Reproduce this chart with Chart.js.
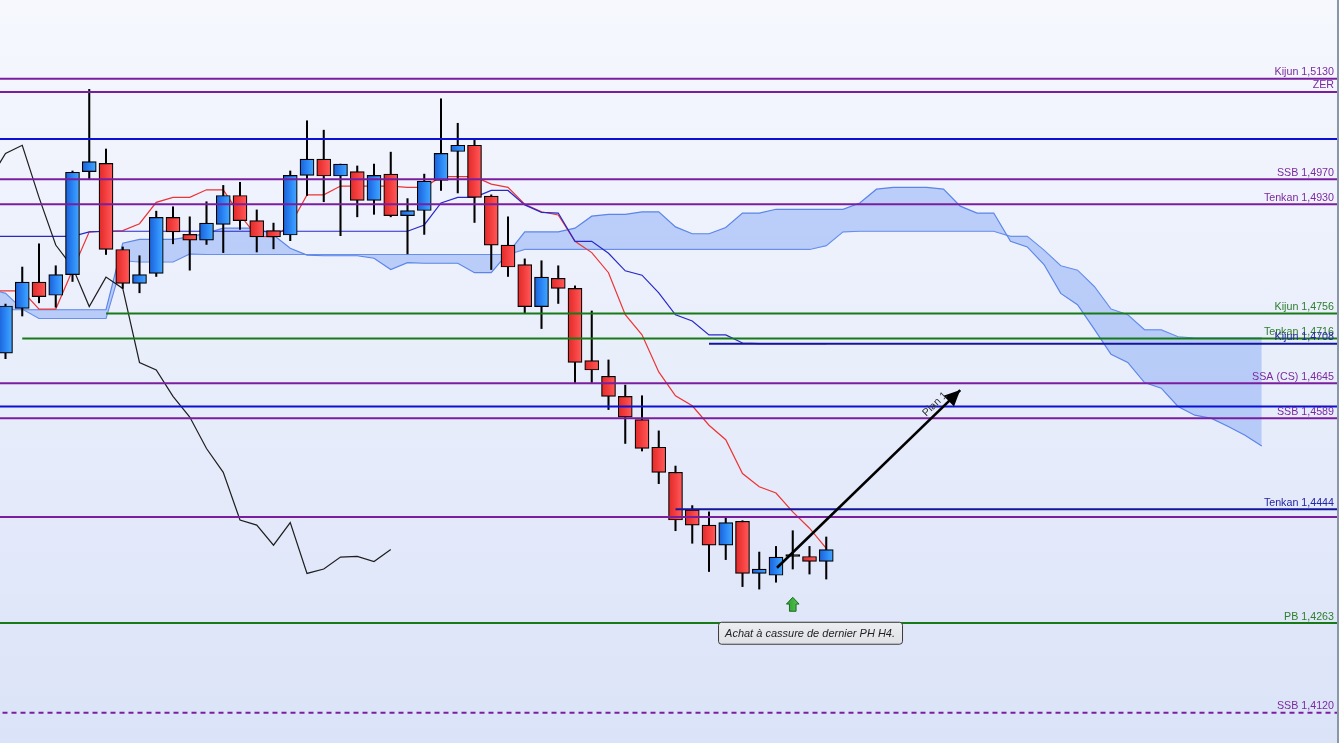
<!DOCTYPE html>
<html>
<head>
<meta charset="utf-8">
<script src="https://cdn.jsdelivr.net/npm/chart.js@4.4.1/dist/chart.umd.min.js"></script>
<style>
html,body{margin:0;padding:0;overflow:hidden;background:#fff}
canvas{display:block}
</style>
</head>
<body>
<canvas id="c" width="1339" height="743"></canvas>
<script>
// ---------- DATA ----------
// candles, index 0..49
const open  = [1.4693,1.4764,1.4806,1.4785,1.4818,1.4982,1.4995,1.4858,1.4804,1.4820,1.4909,1.4882,1.4873,1.4898,1.4944,1.4904,1.4888,1.4881,1.4976,1.5002,1.4975,1.4982,1.4936,1.4978,1.4912,1.4920,1.4968,1.5014,1.5024,1.4943,1.4865,1.4834,1.4767,1.4812,1.4796,1.4681,1.4656,1.4624,1.4587,1.4543,1.4503,1.4443,1.4419,1.4387,1.4425,1.4342,1.4339,1.4369,1.4369,1.4361];
const high  = [1.4771,1.4830,1.4867,1.4832,1.4983,1.5113,1.5018,1.4862,1.4848,1.4919,1.4926,1.4910,1.4934,1.4960,1.4965,1.4921,1.4900,1.4983,1.5063,1.5048,1.4994,1.4991,1.4994,1.5013,1.4939,1.4978,1.5098,1.5059,1.5032,1.4945,1.4910,1.4843,1.4840,1.4832,1.4800,1.4760,1.4682,1.4642,1.4625,1.4569,1.4513,1.4450,1.4440,1.4430,1.4426,1.4376,1.4385,1.4410,1.4385,1.4400];
const low   = [1.4684,1.4752,1.4773,1.4766,1.4807,1.4970,1.4850,1.4796,1.4789,1.4815,1.4867,1.4825,1.4866,1.4853,1.4890,1.4854,1.4859,1.4872,1.4944,1.4934,1.4880,1.4910,1.4914,1.4910,1.4851,1.4882,1.4952,1.4948,1.4901,1.4826,1.4815,1.4757,1.4732,1.4772,1.4646,1.4646,1.4603,1.4549,1.4537,1.4485,1.4410,1.4390,1.4345,1.4364,1.4321,1.4317,1.4328,1.4349,1.4341,1.4333];
const close = [1.4768,1.4806,1.4783,1.4818,1.4981,1.4998,1.4858,1.4804,1.4818,1.4909,1.4886,1.4873,1.4900,1.4944,1.4904,1.4878,1.4878,1.4976,1.5002,1.4975,1.4994,1.4936,1.4976,1.4912,1.4920,1.4967,1.5011,1.5024,1.4941,1.4865,1.4830,1.4767,1.4814,1.4796,1.4678,1.4666,1.4624,1.4591,1.4541,1.4503,1.4427,1.4419,1.4387,1.4423,1.4342,1.4349,1.4368,1.4369,1.4361,1.4380];

// Ichimoku lines, first value sits at index -1
const tenkan = [1.4792,1.4792,1.4792,1.4763,1.4763,1.4825,1.4886,1.4887,1.4888,1.4899,1.4933,1.4941,1.4941,1.4953,1.4953,1.4913,1.4879,1.4878,1.4897,1.4945,1.4945,1.4959,1.4959,1.4959,1.4959,1.4957,1.4957,1.4974,1.4974,1.4974,1.4962,1.4957,1.4930,1.4918,1.4913,1.4871,1.4853,1.4821,1.4754,1.4722,1.4663,1.4625,1.4609,1.4578,1.4555,1.4501,1.4480,1.4470,1.4440,1.4414,1.4382];
const kijun  = [1.4879,1.4879,1.4879,1.4879,1.4879,1.4879,1.4886,1.4887,1.4887,1.4887,1.4887,1.4887,1.4887,1.4887,1.4887,1.4887,1.4887,1.4887,1.4887,1.4887,1.4887,1.4887,1.4887,1.4887,1.4887,1.4887,1.4897,1.4932,1.4941,1.4941,1.4952,1.4952,1.4929,1.4917,1.4916,1.4871,1.4871,1.4852,1.4824,1.4817,1.4789,1.4754,1.4744,1.4722,1.4722,1.4709,1.4708,1.4708,1.4708,1.4708,1.4708];
const chikou = [1.4967,1.5011,1.5024,1.4941,1.4865,1.4830,1.4767,1.4814,1.4796,1.4678,1.4666,1.4624,1.4591,1.4541,1.4503,1.4427,1.4419,1.4387,1.4423,1.4342,1.4349,1.4368,1.4369,1.4361,1.4380];
const spanA  = [1.4762,1.4762,1.4762,1.4762,1.4762,1.4762,1.4762,1.4762,1.4868,1.4874,1.4874,1.4874,1.4878,1.4884,1.4892,1.4892,1.4892,1.4881,1.4860,1.4849,1.4848,1.4848,1.4848,1.4844,1.4826,1.4837,1.4836,1.4836,1.4836,1.4821,1.4821,1.4852,1.4886,1.4886,1.4886,1.4892,1.4911,1.4914,1.4914,1.4918,1.4918,1.4894,1.4883,1.4883,1.4893,1.4916,1.4916,1.4922,1.4922,1.4922,1.4922,1.4922,1.4932,1.4954,1.4957,1.4957,1.4957,1.4954,1.4927,1.4916,1.4916,1.4871,1.4862,1.4834,1.4788,1.4770,1.4731,1.4691,1.4678,1.4646,1.4637,1.4608,1.4594,1.4589,1.4576,1.4562,1.4545];
const spanB  = [1.4795,1.4788,1.4763,1.4748,1.4748,1.4748,1.4748,1.4748,1.4840,1.4838,1.4838,1.4838,1.4851,1.4850,1.4850,1.4850,1.4850,1.4850,1.4850,1.4850,1.4850,1.4850,1.4850,1.4850,1.4850,1.4850,1.4850,1.4850,1.4850,1.4850,1.4850,1.4850,1.4858,1.4858,1.4858,1.4858,1.4858,1.4858,1.4858,1.4858,1.4858,1.4858,1.4858,1.4858,1.4858,1.4858,1.4858,1.4858,1.4858,1.4858,1.4864,1.4886,1.4887,1.4887,1.4887,1.4887,1.4887,1.4887,1.4887,1.4887,1.4887,1.4879,1.4879,1.4857,1.4832,1.4825,1.4799,1.4763,1.4754,1.4730,1.4730,1.4719,1.4717,1.4717,1.4717,1.4717,1.4717];

// horizontal levels
const levelValues = [1.5130,1.5109,1.5034,1.4970,1.4930,1.4756,1.4716,1.4708,1.4645,1.4608,1.4589,1.4444,1.4432,1.4263,1.4120];
const levelLabels = ['Kijun 1,5130','ZER','','SSB 1,4970','Tenkan 1,4930','Kijun 1,4756','Tenkan 1,4716','Kijun 1,4708','SSA (CS) 1,4645','','SSB 1,4589','Tenkan 1,4444','','PB 1,4263','SSB 1,4120'];
const levelStart  = [null,null,null,null,null,6,1,42,null,null,null,40,null,null,null];
const levelKind   = ['p','p','b','p','p','g','g','n','p','b','p','n','p','g','pd'];

// annotations
const arrowFrom = [46.06, 1.4351];
const arrowTo   = [57.0, 1.4634];
const arrowLabel = 'Plan 1';
const signalAt = [47, 1.4304];
const noteAt = [42.54, 1.4265];
const noteText = 'Achat à cassure de dernier PH H4.';

// ---------- STYLE ----------
const X_MIN = -0.3284, X_MAX = 79.612;
const Y_MIN = 1.407186, Y_MAX = 1.525536;
const styleMap = {
  p:  {line:'#7a1ea0', text:'#7a2a9e', dash:[]},
  pd: {line:'#7a1ea0', text:'#7a2a9e', dash:[5,4]},
  b:  {line:'#0c10d4', text:'#1c1ca8', dash:[]},
  n:  {line:'#15159c', text:'#2323a3', dash:[]},
  g:  {line:'#167a16', text:'#2e7e2e', dash:[]}
};
const FONT = '"Liberation Sans", Arial, sans-serif';

function pts(arr, startIdx){ return arr.map((v,k)=>({x:startIdx+k, y:v})); }

function bodyColor(ctx){
  if (ctx.type !== 'data') return '#2b86f5';
  const i = ctx.dataIndex, chart = ctx.chart, xs = chart.scales.x;
  if (open[i] === close[i]) return '#000';
  const up = close[i] > open[i];
  const px = xs ? xs.getPixelForValue(i) : NaN;
  if (!isFinite(px)) return up ? '#2a85f4' : '#f43f3f';
  const g = chart.ctx.createLinearGradient(px-7,0,px+7,0);
  if (up){ g.addColorStop(0,'#1b5fd6'); g.addColorStop(0.5,'#2a85f4'); g.addColorStop(1,'#45a8ff'); }
  else   { g.addColorStop(0,'#e02a2a'); g.addColorStop(0.5,'#f43f3f'); g.addColorStop(1,'#ff5c5c'); }
  return g;
}

const datasets = [];
// cloud
datasets.push({type:'line', data:pts(spanA,-1), borderColor:'#5b85e8', borderWidth:1.2, pointRadius:0, tension:0, fill:'+1', backgroundColor:'rgba(140,172,246,0.52)', order:7});
datasets.push({type:'line', data:pts(spanB,-1), borderColor:'#5b85e8', borderWidth:1.2, pointRadius:0, tension:0, fill:false, order:7});
// ichimoku lines
datasets.push({type:'line', data:pts(chikou,-1), borderColor:'#1e1e1e', borderWidth:1.2, pointRadius:0, tension:0, fill:false, order:6});
datasets.push({type:'line', data:pts(kijun,-1), borderColor:'#2828c8', borderWidth:1.2, pointRadius:0, tension:0, fill:false, order:6});
datasets.push({type:'line', data:pts(tenkan,-1), borderColor:'#ec3434', borderWidth:1.2, pointRadius:0, tension:0, fill:false, order:6});
// wicks and bodies
datasets.push({type:'bar', data: open.map((_,i)=>({x:i, y:[low[i], high[i]]})), backgroundColor:'#000', borderWidth:0, barThickness:1.4, grouped:false, order:5});
datasets.push({type:'bar', data: open.map((_,i)=>({x:i, y:[open[i], close[i]]})), backgroundColor:bodyColor, borderColor:'#000', borderWidth:1.2, borderSkipped:false, barThickness:14, minBarLength:2, grouped:false, order:4});
// levels
levelValues.forEach((v,k)=>{
  const st = styleMap[levelKind[k]];
  const x0 = levelStart[k] === null ? X_MIN - 2 : levelStart[k];
  datasets.push({type:'line', data:[{x:x0,y:v},{x:X_MAX+2,y:v}], borderColor:st.line, borderWidth:2, borderDash:st.dash, pointRadius:0, fill:false, order:3});
});
// arrow
datasets.push({type:'line', data:[{x:arrowFrom[0],y:arrowFrom[1]},{x:arrowTo[0],y:arrowTo[1]}], borderColor:'#000', borderWidth:2.6, pointRadius:0, fill:false, order:1});

const bgPlugin = {
  id:'bg',
  beforeDraw(chart){
    const {ctx, width, height} = chart;
    const g = ctx.createLinearGradient(0,0,0,height);
    g.addColorStop(0,'#f6f8fe');
    g.addColorStop(1,'#dbe3f8');
    ctx.save(); ctx.fillStyle = g; ctx.fillRect(0,0,width,height); ctx.restore();
  }
};

const overlayPlugin = {
  id:'overlay',
  afterDraw(chart){
    const {ctx, width} = chart;
    const xs = chart.scales.x, ys = chart.scales.y;
    ctx.save();
    // level labels
    ctx.font = '10.7px ' + FONT;
    ctx.textAlign = 'right';
    ctx.textBaseline = 'alphabetic';
    levelValues.forEach((v,k)=>{
      if (!levelLabels[k]) return;
      ctx.fillStyle = styleMap[levelKind[k]].text;
      ctx.fillText(levelLabels[k], width - 5, ys.getPixelForValue(v) - 3.5);
    });
    // arrow head
    const ax0 = xs.getPixelForValue(arrowFrom[0]), ay0 = ys.getPixelForValue(arrowFrom[1]);
    const ax1 = xs.getPixelForValue(arrowTo[0]), ay1 = ys.getPixelForValue(arrowTo[1]);
    const ang = Math.atan2(ay1 - ay0, ax1 - ax0);
    ctx.save();
    ctx.translate(ax1, ay1);
    ctx.rotate(ang);
    ctx.beginPath();
    ctx.moveTo(0,0); ctx.lineTo(-16,-7.5); ctx.lineTo(-16,7.5); ctx.closePath();
    ctx.fillStyle = '#000'; ctx.fill();
    ctx.restore();
    // arrow label
    ctx.save();
    const back = 28, off = 7.5;
    const ux = Math.cos(ang), uy = Math.sin(ang);
    const tx = ax1 - ux*back + uy*off, ty = ay1 - uy*back - ux*off;
    ctx.translate(tx, ty);
    ctx.rotate(ang);
    ctx.font = '10.5px ' + FONT;
    ctx.fillStyle = '#333';
    ctx.textAlign = 'center';
    ctx.textBaseline = 'middle';
    ctx.fillText(arrowLabel, 0, 0);
    ctx.restore();
    // green signal arrow
    const gx = xs.getPixelForValue(signalAt[0]), gy = ys.getPixelForValue(signalAt[1]);
    ctx.save();
    ctx.beginPath();
    ctx.moveTo(gx, gy);
    ctx.lineTo(gx+6.3, gy+6.8);
    ctx.lineTo(gx+3.3, gy+6.8);
    ctx.lineTo(gx+3.3, gy+14);
    ctx.lineTo(gx-3.3, gy+14);
    ctx.lineTo(gx-3.3, gy+6.8);
    ctx.lineTo(gx-6.3, gy+6.8);
    ctx.closePath();
    const gg = ctx.createLinearGradient(gx-6, 0, gx+6, 0);
    gg.addColorStop(0,'#2f9f2f'); gg.addColorStop(1,'#52c552');
    ctx.fillStyle = gg; ctx.fill();
    ctx.strokeStyle = '#1d6a1d'; ctx.lineWidth = 1; ctx.stroke();
    ctx.restore();
    // note box
    const bx = xs.getPixelForValue(noteAt[0]), by = ys.getPixelForValue(noteAt[1]);
    ctx.save();
    ctx.font = 'italic 11px ' + FONT;
    const tw = ctx.measureText(noteText).width;
    const bw = tw + 14, bh = 22;
    ctx.beginPath();
    ctx.roundRect(bx + 0.5, by + 0.5, bw, bh, 3);
    const bg = ctx.createLinearGradient(0, by, 0, by + bh);
    bg.addColorStop(0,'#eceef2'); bg.addColorStop(1,'#dfe1e6');
    ctx.fillStyle = bg; ctx.fill();
    ctx.strokeStyle = '#3a3a3a'; ctx.lineWidth = 1; ctx.stroke();
    ctx.fillStyle = '#222';
    ctx.textAlign = 'left';
    ctx.textBaseline = 'alphabetic';
    ctx.fillText(noteText, bx + 7, by + 15.5);
    ctx.restore();
    // right frame
    ctx.fillStyle = '#8a97a8';
    ctx.fillRect(width - 2, 0, 2, chart.height);
    ctx.restore();
  }
};

new Chart(document.getElementById('c'), {
  type:'bar',
  data:{ datasets },
  options:{
    responsive:false,
    animation:false,
    events:[],
    layout:{ padding:0 },
    plugins:{ legend:{display:false}, tooltip:{enabled:false} },
    scales:{
      x:{ type:'linear', min:X_MIN, max:X_MAX, bounds:'data', offset:false, display:false, grid:{display:false} },
      y:{ type:'linear', min:Y_MIN, max:Y_MAX, bounds:'data', beginAtZero:false, display:false, grid:{display:false} }
    }
  },
  plugins:[bgPlugin, overlayPlugin]
});
</script>
</body>
</html>
